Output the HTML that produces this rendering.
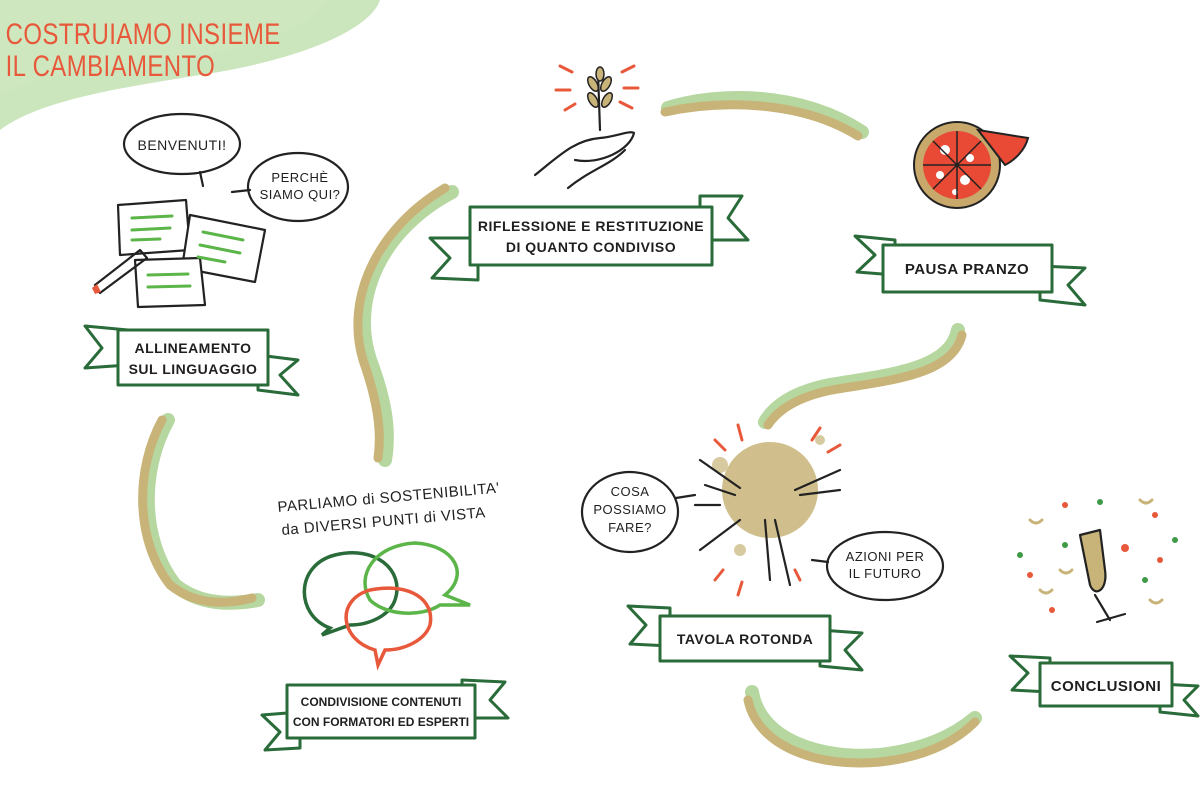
<!DOCTYPE html>
<html><head><meta charset="utf-8"><style>
html,body{margin:0;padding:0;background:#fff;width:1200px;height:800px;overflow:hidden}
svg{display:block}
.t{font-family:"Liberation Sans",sans-serif;font-weight:bold;fill:#1f1f1f;letter-spacing:0.5px}
.b{fill:#fff;stroke:#2a6b3a;stroke-width:3;stroke-linejoin:round}
.ink{fill:none;stroke:#222;stroke-width:2.2;stroke-linecap:round;stroke-linejoin:round}
.sw1{fill:none;stroke:#a9d08f;stroke-linecap:round;opacity:.85}
.sw2{fill:none;stroke:#c8b378;stroke-linecap:round}
</style></head><body>
<svg width="1200" height="800" viewBox="0 0 1200 800" xmlns="http://www.w3.org/2000/svg">
<path d="M0 0 H380 C370 30 300 60 200 75 C120 88 40 100 0 130 Z" fill="#b9dca6" opacity=".75"/>
<path d="M0 0 H330 C300 40 200 60 90 70 C50 74 20 85 0 95 Z" fill="#cfe8c0" opacity=".7"/>
<text x="7" y="44" class="t" style="fill:#e8583a;font-size:30px;font-weight:normal" transform="scale(0.8,1)">COSTRUIAMO INSIEME</text>
<text x="7" y="76" class="t" style="fill:#e8583a;font-size:30px;font-weight:normal" transform="scale(0.8,1)">IL CAMBIAMENTO</text>

<g stroke-width="14">
<path class="sw1" d="M452 192 C380 230 350 300 370 360 C385 400 390 430 385 460"/>
<path class="sw2" d="M445 188 C375 230 345 300 363 360 C377 400 382 430 378 458" stroke-width="9"/>
<path class="sw1" d="M168 420 C140 470 140 540 175 585 C200 605 230 605 258 600"/>
<path class="sw2" d="M162 420 C135 470 135 540 170 585 C195 605 225 605 252 598" stroke-width="9"/>
<path class="sw1" d="M668 108 C720 92 800 92 862 132"/>
<path class="sw2" d="M665 112 C720 100 800 100 858 136" stroke-width="9"/>
<path class="sw1" d="M958 330 C950 370 890 375 830 385 C795 392 775 405 765 422"/>
<path class="sw2" d="M962 335 C952 375 892 380 832 390 C797 397 778 410 768 425" stroke-width="9"/>
<path class="sw1" d="M752 692 C760 740 820 760 880 755 C925 750 955 735 975 718"/>
<path class="sw2" d="M748 700 C758 748 820 768 880 762 C925 757 955 742 975 722" stroke-width="9"/>
</g>

<g>
<polygon class="b" points="85,326 128,330 128,365 85,368 102,348"/>
<polygon class="b" points="258,355 298,360 280,375 298,395 258,390"/>
<rect class="b" x="118" y="330" width="150" height="55"/>
<text class="t" x="193" y="353" font-size="14" text-anchor="middle">ALLINEAMENTO</text>
<text class="t" x="193" y="374" font-size="14" text-anchor="middle">SUL LINGUAGGIO</text>
</g>
<g>
<polygon class="b" points="430,238 478,238 478,280 432,278 450,258"/>
<polygon class="b" points="700,196 742,196 728,218 748,240 700,240"/>
<rect class="b" x="470" y="207" width="242" height="58"/>
<text class="t" x="591" y="231" font-size="14" text-anchor="middle">RIFLESSIONE E RESTITUZIONE</text>
<text class="t" x="591" y="252" font-size="14" text-anchor="middle">DI QUANTO CONDIVISO</text>
</g>
<g>
<polygon class="b" points="855,236 895,240 895,275 857,272 875,255"/>
<polygon class="b" points="1040,266 1085,268 1068,285 1085,305 1040,300"/>
<rect class="b" x="883" y="245" width="169" height="47"/>
<text class="t" x="967" y="274" font-size="15" text-anchor="middle">PAUSA PRANZO</text>
</g>
<g>
<polygon class="b" points="628,606 670,608 670,646 630,644 646,625"/>
<polygon class="b" points="820,630 862,633 845,650 862,670 820,666"/>
<rect class="b" x="660" y="616" width="170" height="45"/>
<text class="t" x="745" y="644" font-size="14" text-anchor="middle">TAVOLA ROTONDA</text>
</g>
<g>
<polygon class="b" points="262,715 300,712 300,748 265,750 280,732"/>
<polygon class="b" points="462,680 505,682 490,700 508,718 462,718"/>
<rect class="b" x="287" y="685" width="188" height="53"/>
<text class="t" x="381" y="706" font-size="12" text-anchor="middle" style="letter-spacing:0">CONDIVISIONE CONTENUTI</text>
<text class="t" x="381" y="726" font-size="12" text-anchor="middle" style="letter-spacing:0">CON FORMATORI ED ESPERTI</text>
</g>
<g>
<polygon class="b" points="1010,656 1050,658 1050,692 1012,690 1028,673"/>
<polygon class="b" points="1160,684 1198,686 1184,700 1198,716 1160,712"/>
<rect class="b" x="1040" y="663" width="132" height="43"/>
<text class="t" x="1106" y="691" font-size="15" text-anchor="middle">CONCLUSIONI</text>
</g>

<ellipse class="ink" cx="182" cy="144" rx="58" ry="30"/>
<path class="ink" d="M200 172 L203 186"/>
<text class="t" x="182" y="150" font-size="14" text-anchor="middle" style="font-weight:normal">BENVENUTI!</text>
<ellipse class="ink" cx="298" cy="187" rx="50" ry="34"/>
<path class="ink" d="M250 190 L232 192"/>
<text class="t" x="300" y="182" font-size="13" text-anchor="middle" style="font-weight:normal">PERCHÈ</text>
<text class="t" x="300" y="199" font-size="13" text-anchor="middle" style="font-weight:normal">SIAMO QUI?</text>
<g class="ink">
<polygon points="118,205 186,200 190,250 120,255" fill="#fff"/>
<polygon points="190,215 265,230 255,282 182,268" fill="#fff"/>
<polygon points="135,260 200,258 205,305 138,307" fill="#fff"/>
</g>
<g stroke="#5cb548" stroke-width="3" stroke-linecap="round">
<path d="M132 218 L172 216 M132 230 L170 228 M132 240 L160 239"/>
<path d="M203 232 L243 240 M200 245 L240 253 M198 257 L225 262"/>
<path d="M148 275 L188 274 M148 287 L190 286"/>
</g>
<path class="ink" d="M95 285 L140 250 L147 258 L100 293 Z" fill="#fff"/>
<path d="M92 288 L97 284 L101 292 L95 294 Z" fill="#e8583a"/>

<g stroke="#e8583a" stroke-width="3" stroke-linecap="round">
<path d="M560 66 L572 72 M556 90 L570 90 M565 110 L575 104 M634 66 L622 72 M638 88 L624 88 M632 108 L620 102"/>
</g>
<path class="ink" d="M598 72 L600 130"/>
<g fill="#c8b378" stroke="#222" stroke-width="1.5">
<ellipse cx="593" cy="84" rx="4" ry="8" transform="rotate(-30 593 84)"/>
<ellipse cx="606" cy="84" rx="4" ry="8" transform="rotate(30 606 84)"/>
<ellipse cx="593" cy="100" rx="4" ry="8" transform="rotate(-30 593 100)"/>
<ellipse cx="607" cy="100" rx="4" ry="8" transform="rotate(30 607 100)"/>
<ellipse cx="600" cy="74" rx="4" ry="7"/>
</g>
<path class="ink" d="M535 175 C560 155 575 140 600 138 C615 137 630 130 634 133 C630 150 600 165 575 160 M568 188 C590 170 610 165 625 150"/>

<circle cx="957" cy="165" r="43" fill="#c8a86b" stroke="#222" stroke-width="2"/>
<circle cx="957" cy="165" r="34" fill="#e84a36"/>
<g fill="#fff"><circle cx="945" cy="150" r="5"/><circle cx="965" cy="180" r="5"/><circle cx="940" cy="175" r="4"/><circle cx="970" cy="158" r="4"/><circle cx="955" cy="192" r="3"/></g>
<g stroke="#222" stroke-width="1.5"><path d="M957 131 L957 199 M923 165 L991 165 M933 141 L981 189 M933 189 L981 141"/></g>
<path d="M978 130 L1028 138 C1025 150 1015 160 1005 165 Z" fill="#e84a36" stroke="#222" stroke-width="2"/>

<circle cx="770" cy="490" r="48" fill="#c8b378" opacity=".85"/>
<circle cx="720" cy="465" r="8" fill="#c8b378" opacity=".7"/>
<circle cx="740" cy="550" r="6" fill="#c8b378" opacity=".7"/>
<circle cx="820" cy="440" r="5" fill="#c8b378" opacity=".7"/>
<g class="ink">
<path d="M700 460 L740 488 M705 485 L735 495 M795 490 L840 470 M800 495 L840 490 M740 520 L700 550 M765 520 L770 580 M775 520 L790 585 M720 505 L695 505"/>
</g>
<g stroke="#e8583a" stroke-width="3" stroke-linecap="round">
<path d="M738 425 L742 440 M715 440 L725 450 M820 428 L812 440 M840 445 L828 452 M715 580 L723 570 M738 595 L742 582 M800 580 L795 570"/>
</g>
<ellipse class="ink" cx="630" cy="512" rx="48" ry="40"/>
<path class="ink" d="M676 498 L695 495"/>
<text class="t" x="630" y="496" font-size="13" text-anchor="middle" style="font-weight:normal">COSA</text>
<text class="t" x="630" y="514" font-size="13" text-anchor="middle" style="font-weight:normal">POSSIAMO</text>
<text class="t" x="630" y="532" font-size="13" text-anchor="middle" style="font-weight:normal">FARE?</text>
<ellipse class="ink" cx="885" cy="566" rx="58" ry="34"/>
<path class="ink" d="M828 562 L812 560"/>
<text class="t" x="885" y="561" font-size="13" text-anchor="middle" style="font-weight:normal">AZIONI PER</text>
<text class="t" x="885" y="578" font-size="13" text-anchor="middle" style="font-weight:normal">IL FUTURO</text>

<text class="t" x="278" y="512" font-size="15" style="font-weight:normal" transform="rotate(-5 278 512)">PARLIAMO di SOSTENIBILITA'</text>
<text class="t" x="282" y="535" font-size="15" style="font-weight:normal" transform="rotate(-5 282 535)">da DIVERSI PUNTI di VISTA</text>
<g fill="none" stroke-width="3.5" stroke-linecap="round">
<path d="M330 628 C295 615 295 565 335 555 C375 545 405 570 395 600 C390 615 370 625 350 625 L322 635 Z" stroke="#2a6b3a"/>
<path d="M445 595 C470 575 455 545 415 543 C375 545 355 575 370 600 C385 615 420 618 440 605 L470 605 Z" stroke="#5cb548"/>
<path d="M375 650 C340 640 335 600 370 590 C410 582 435 600 430 625 C425 640 405 650 385 650 L378 665 Z" stroke="#e8583a"/>
</g>

<g class="ink">
<path d="M1080 535 L1100 530 L1105 570 C1108 590 1095 598 1090 585 Z" fill="#c8b378"/>
<path d="M1095 595 L1110 620 M1097 622 L1125 614"/>
</g>
<g fill="#e8583a"><circle cx="1065" cy="505" r="3"/><circle cx="1125" cy="548" r="4"/><circle cx="1160" cy="560" r="3"/><circle cx="1030" cy="575" r="3"/><circle cx="1052" cy="610" r="3"/><circle cx="1155" cy="515" r="3"/></g>
<g fill="#3f9a46"><circle cx="1100" cy="502" r="3"/><circle cx="1020" cy="555" r="3"/><circle cx="1145" cy="580" r="3"/><circle cx="1065" cy="545" r="3"/><circle cx="1175" cy="540" r="3"/></g>
<g stroke="#c8b378" stroke-width="3" fill="none" stroke-linecap="round"><path d="M1030 520 q6 6 12 0 M1140 500 q6 6 12 0 M1040 590 q6 6 12 0 M1150 600 q6 6 12 0 M1060 570 q6 6 12 0"/></g>
</svg>
</body></html>
